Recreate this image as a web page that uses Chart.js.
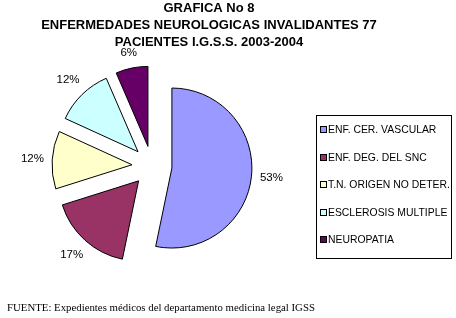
<!DOCTYPE html>
<html>
<head>
<meta charset="utf-8">
<script src="https://cdn.jsdelivr.net/npm/chart.js@4.4.1/dist/chart.umd.min.js"></script>
<style>
  html, body { margin: 0; padding: 0; background: #fff; }
  #wrap { position: relative; width: 456px; height: 318px; }
</style>
</head>
<body>
<div id="wrap"><canvas id="chart" width="456" height="318"></canvas></div>
<script>
const titleLines = ['GRAFICA No 8', 'ENFERMEDADES NEUROLOGICAS INVALIDANTES 77', 'PACIENTES I.G.S.S. 2003-2004'];
const categories = ['ENF. CER. VASCULAR', 'ENF. DEG. DEL SNC', 'T.N. ORIGEN NO DETER.', 'ESCLEROSIS MULTIPLE', 'NEUROPATIA'];
const patients = [41, 13, 9, 9, 5];
const sliceColors = ['#9999FF', '#993366', '#FFFFCC', '#CCFFFF', '#660066'];
const sourceNote = 'FUENTE: Expedientes médicos del departamento medicina legal IGSS';

const EXPLODE = 20;
const LABEL_GAP = 8;

// push every slice out along its middle angle (Excel style exploded pie)
const explode = {
  id: 'explode',
  afterDatasetsUpdate(chart) {
    chart.getDatasetMeta(0).data.forEach(arc => {
      const mid = (arc.startAngle + arc.endAngle) / 2;
      arc.x += Math.cos(mid) * EXPLODE;
      arc.y += Math.sin(mid) * EXPLODE;
    });
  }
};

const decorations = {
  id: 'decorations',
  afterDraw(chart) {
    const ctx = chart.ctx;
    const area = chart.chartArea;
    const cx = (area.left + area.right) / 2;
    const cy = (area.top + area.bottom) / 2;
    const total = patients.reduce((a, b) => a + b, 0);

    ctx.save();
    // percentage labels, placed just outside the slice edge
    ctx.fillStyle = '#000';
    ctx.font = '11.5px "Liberation Sans", Arial, sans-serif';
    ctx.textAlign = 'center';
    ctx.textBaseline = 'middle';
    chart.getDatasetMeta(0).data.forEach((arc, i) => {
      const mid = (arc.startAngle + arc.endAngle) / 2;
      const pct = Math.round(patients[i] / total * 100) + '%';
      const w = ctx.measureText(pct).width;
      const c = Math.cos(mid), s = Math.sin(mid);
      const d = arc.outerRadius + EXPLODE + LABEL_GAP + Math.abs(c) * w / 2 + Math.abs(s) * 5.5;
      ctx.fillText(pct, cx + c * d, cy + s * d);
    });

    // title
    ctx.font = 'bold 13px "Liberation Sans", Arial, sans-serif';
    titleLines.forEach((t, i) => ctx.fillText(t, 209, 8 + i * 17));

    // legend box
    ctx.strokeStyle = '#000';
    ctx.lineWidth = 1;
    ctx.strokeRect(316.5, 115.5, 135, 143);
    ctx.textAlign = 'left';
    ctx.font = '10.4px "Liberation Sans", Arial, sans-serif';
    categories.forEach((c, i) => {
      const y = Math.round(130 + i * 27.5);
      ctx.fillStyle = sliceColors[i];
      ctx.fillRect(321, y - 3, 5, 5);
      ctx.strokeRect(320.5, y - 3.5, 6, 6);
      ctx.fillStyle = '#000';
      ctx.fillText(c, 328, y);
    });

    // source
    ctx.font = '10.8px "Liberation Serif", "Times New Roman", serif';
    ctx.fillText(sourceNote, 7, 308);
    ctx.restore();
  }
};

new Chart(document.getElementById('chart'), {
  type: 'pie',
  data: {
    labels: categories,
    datasets: [{
      data: patients,
      backgroundColor: sliceColors,
      borderColor: '#000',
      borderWidth: 1
    }]
  },
  options: {
    responsive: false,
    animation: false,
    devicePixelRatio: 1,
    radius: 80,
    layout: { padding: { left: 52, right: 204, top: 66, bottom: 52 } },
    plugins: {
      legend: { display: false },
      tooltip: { enabled: false }
    }
  },
  plugins: [explode, decorations]
});
</script>
</body>
</html>
